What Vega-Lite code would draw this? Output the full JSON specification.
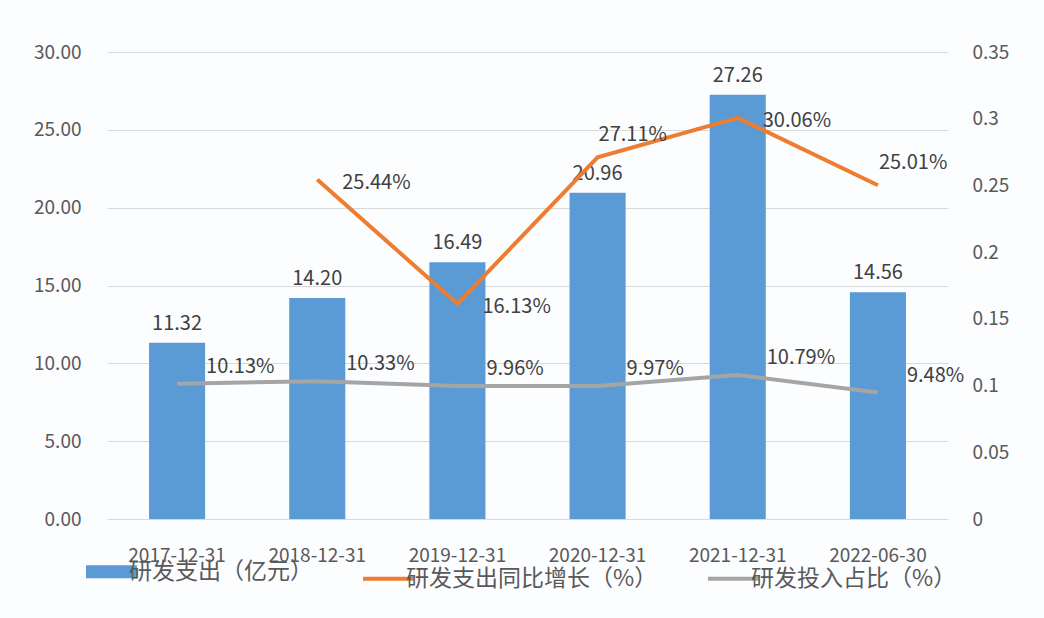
{
  "$schema": "https://vega.github.io/schema/vega-lite/v6.json",
  "width": 841,
  "height": 467,
  "autosize": {"type": "none"},
  "padding": {"left": 107, "top": 52, "right": 96, "bottom": 99},
  "background": "#fcfdff",
  "config": {
    "font": "Noto Sans CJK SC",
    "view": {"stroke": null},
    "axis": {"labelFont": "Noto Sans CJK SC", "labelColor": "#595959", "labelFontSize": 19, "domain": false, "ticks": false, "title": null}
  },
  "data": {
    "values": [
      {"date": "2017-12-31", "rd": 11.32, "growth": null, "ratio": 0.1013},
      {"date": "2018-12-31", "rd": 14.20, "growth": 0.2544, "ratio": 0.1033},
      {"date": "2019-12-31", "rd": 16.49, "growth": 0.1613, "ratio": 0.0996},
      {"date": "2020-12-31", "rd": 20.96, "growth": 0.2711, "ratio": 0.0997},
      {"date": "2021-12-31", "rd": 27.26, "growth": 0.3006, "ratio": 0.1079},
      {"date": "2022-06-30", "rd": 14.56, "growth": 0.2501, "ratio": 0.0948}
    ]
  },
  "encoding": {
    "x": {"field": "date", "type": "nominal", "sort": null,
      "scale": {"paddingInner": 0.6, "paddingOuter": 0.3},
      "axis": {"labelAngle": 0, "labelPadding": 27, "grid": false, "labelFontSize": 19}}
  },
  "layer": [
    {
      "encoding": {
        "y": {"field": "rd", "type": "quantitative",
          "scale": {"domain": [0, 30]},
          "axis": {"orient": "left", "values": [0, 5, 10, 15, 20, 25, 30], "format": ".2f", "grid": true, "gridColor": "#d9d9d9", "labelPadding": 26}}
      },
      "layer": [
        {"mark": {"type": "bar", "color": "#5B9BD5"},
         "encoding": {"color": {"datum": "研发支出（亿元）", "type": "nominal",
           "scale": {"domain": ["研发支出（亿元）", "研发支出同比增长（%）", "研发投入占比（%）"], "range": ["#5B9BD5", "#ED7D31", "#A5A5A5"]},
           "legend": {"orient": "none", "legendX": -7, "legendY": 508, "direction": "horizontal", "title": null,
             "symbolType": "stroke", "symbolSize": 2600, "symbolStrokeWidth": 4,
             "labelFontSize": 23, "labelColor": "#595959", "labelFont": "Noto Sans CJK SC", "labelOffset": 6, "labelLimit": 0, "columnPadding": 42,
             "encode": {"symbols": {"update": {
               "stroke": {"scale": "color", "field": "value"},
               "strokeWidth": {"signal": "datum.value === '研发支出（亿元）' ? 13 : 4"}}}}}}}},
        {"mark": {"type": "text", "baseline": "bottom", "dy": -9, "fontSize": 20, "color": "#404040"},
         "encoding": {"text": {"field": "rd", "type": "quantitative", "format": ".2f"}}}
      ]
    },
    {
      "encoding": {
        "y": {"type": "quantitative", "scale": {"domain": [0, 0.35]},
          "axis": {"orient": "right", "values": [0, 0.05, 0.1, 0.15, 0.2, 0.25, 0.3, 0.35], "format": ".2~f", "grid": false, "labelPadding": 24}}
      },
      "layer": [
        {"transform": [{"filter": "datum.growth != null"}],
         "mark": {"type": "line", "strokeWidth": 4},
         "encoding": {"y": {"field": "growth", "type": "quantitative"}, "color": {"datum": "研发支出同比增长（%）", "type": "nominal"}}},
        {"transform": [{"filter": "datum.growth != null && datum.date != '2020-12-31' && datum.date != '2022-06-30'"}],
         "mark": {"type": "text", "align": "left", "baseline": "middle", "dx": 25, "dy": 3, "fontSize": 20, "color": "#404040"},
         "encoding": {"y": {"field": "growth", "type": "quantitative"}, "text": {"field": "growth", "type": "quantitative", "format": ".2%"}}},
        {"transform": [{"filter": "datum.date == '2020-12-31' || datum.date == '2022-06-30'"}],
         "mark": {"type": "text", "align": "left", "baseline": "middle", "dx": 1, "dy": -22, "fontSize": 20, "color": "#404040"},
         "encoding": {"y": {"field": "growth", "type": "quantitative"}, "text": {"field": "growth", "type": "quantitative", "format": ".2%"}}},
        {"mark": {"type": "line", "strokeWidth": 4},
         "encoding": {"y": {"field": "ratio", "type": "quantitative"}, "color": {"datum": "研发投入占比（%）", "type": "nominal"}}},
        {"mark": {"type": "text", "align": "left", "baseline": "middle", "dx": 29, "dy": -17, "fontSize": 20, "color": "#404040"},
         "encoding": {"y": {"field": "ratio", "type": "quantitative"}, "text": {"field": "ratio", "type": "quantitative", "format": ".2%"}}}
      ]
    }
  ],
  "resolve": {"scale": {"y": "independent"}}
}
